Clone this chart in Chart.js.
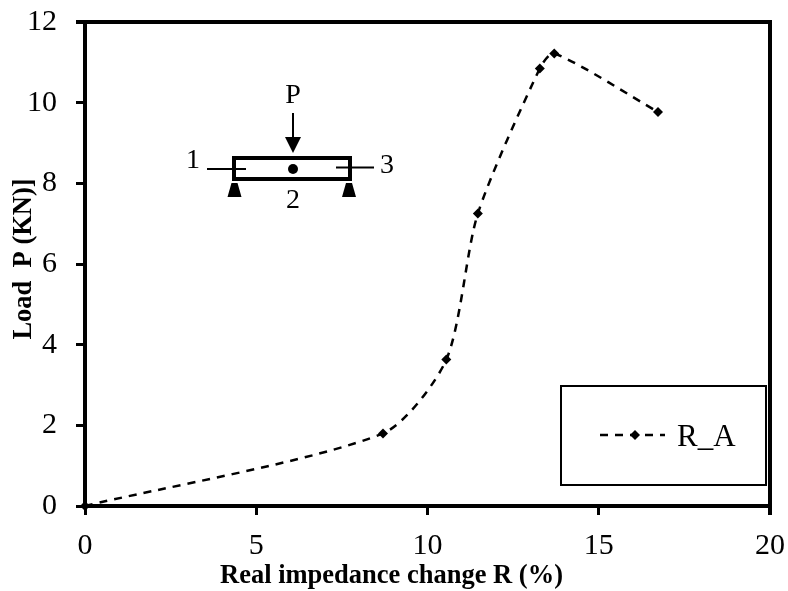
<!DOCTYPE html>
<html>
<head>
<meta charset="utf-8">
<style>
html, body { margin: 0; padding: 0; background: #fff; }
canvas { display: block; }
</style>
<script src="https://cdn.jsdelivr.net/npm/chart.js@4"></script>
</head>
<body>
<canvas id="myChart" width="788" height="591"></canvas>
<script>
const changeR = [0, 8.7, 10.55, 11.47, 13.28, 13.7, 16.73];
const loadP = [0, 1.8, 3.63, 7.25, 10.85, 11.22, 9.77];
const seriesName = "R_A";
const xTitle = "Real impedance change R (%)";
const yTitle = "Load  P (KN)]";

const serif = "'Liberation Serif', 'Times New Roman', serif";

// axis titles (off-centre in the original), the beam sketch and the boxed legend, in canvas pixels
const extras = {
    id: "extras",
    afterDraw(chart) {
        const c = chart.ctx;
        const area = chart.chartArea;
        c.save();
        c.fillStyle = "#000";
        c.strokeStyle = "#000";
        c.lineCap = "butt";

        // top and right edge of the plot
        c.lineWidth = 4;
        c.beginPath();
        c.moveTo(area.left - 9, area.top);
        c.lineTo(area.right, area.top);
        c.lineTo(area.right, area.bottom + 9);
        c.stroke();

        // axis titles
        c.font = "bold 26.5px " + serif;
        c.textAlign = "center";
        c.textBaseline = "alphabetic";
        c.fillText(xTitle, 391.5, 583);
        c.save();
        c.translate(31, 259);
        c.rotate(-Math.PI / 2);
        c.fillText(yTitle, 0, 0);
        c.restore();

        // beam
        c.lineWidth = 4;
        c.strokeRect(234, 158, 116, 21);
        c.lineWidth = 2;
        c.beginPath();
        c.moveTo(207, 169); c.lineTo(246, 169);
        c.moveTo(336, 167.5); c.lineTo(374, 167.5);
        c.moveTo(293, 113); c.lineTo(293, 140);
        c.stroke();
        // arrow head
        c.beginPath();
        c.moveTo(285, 137); c.lineTo(301, 137); c.lineTo(293, 153);
        c.closePath();
        c.fill();
        // centre dot
        c.beginPath();
        c.arc(293, 169, 5, 0, Math.PI * 2);
        c.fill();
        // supports
        [234.5, 349].forEach(function (sx) {
            c.beginPath();
            c.moveTo(sx - 7, 197); c.lineTo(sx + 7, 197); c.lineTo(sx + 3, 183); c.lineTo(sx - 3, 183);
            c.closePath();
            c.fill();
        });
        c.font = "28px " + serif;
        c.fillText("P", 293, 103);
        c.fillText("1", 193, 168);
        c.fillText("3", 387, 173);
        c.fillText("2", 293, 208);

        // legend
        c.lineWidth = 2;
        c.strokeRect(561, 386, 205, 99);
        c.lineWidth = 2.5;
        c.setLineDash([8, 7]);
        c.beginPath();
        c.moveTo(600, 435); c.lineTo(665, 435);
        c.stroke();
        c.setLineDash([]);
        c.beginPath();
        c.moveTo(635, 430); c.lineTo(640, 435); c.lineTo(635, 440); c.lineTo(630, 435);
        c.closePath();
        c.fill();
        c.font = "31px " + serif;
        c.textAlign = "left";
        c.fillText(seriesName, 677, 446);
        c.restore();
    }
};

// fixed axis sizes, and no extra margin for the tick labels that stick out
function fitAxis(scale) {
    if (scale.isHorizontal()) {
        scale.height = 85;
    } else {
        scale.width = 85;
    }
    scale.paddingTop = 0;
    scale.paddingBottom = 0;
    scale.paddingLeft = 0;
    scale.paddingRight = 0;
}

const ctx = document.getElementById("myChart");

new Chart(ctx, {
    type: "scatter",
    plugins: [extras],
    data: {
        datasets: [
            {
                label: seriesName,
                data: changeR.map(function (v, i) { return { x: v, y: loadP[i] }; }),
                showLine: true,
                tension: 0.25,
                borderColor: "#000",
                backgroundColor: "#000",
                borderWidth: 2.5,
                borderDash: [8, 7],
                pointStyle: "rectRot",
                pointRadius: 5,
                pointBorderWidth: 0,
                clip: false,
            },
        ],
    },
    options: {
        responsive: false,
        animation: false,
        layout: { padding: { top: 22, right: 18, bottom: 0, left: 0 } },
        plugins: {
            legend: { display: false },
            tooltip: { enabled: false },
        },
        scales: {
            x: {
                type: "linear",
                min: 0,
                max: 20,
                afterFit: fitAxis,
                border: { color: "#000", width: 4 },
                grid: { drawOnChartArea: false, color: "#000", lineWidth: 3, tickLength: 9 },
                ticks: {
                    stepSize: 5,
                    color: "#000",
                    maxRotation: 0,
                    padding: 13,
                    font: { family: serif, size: 30 },
                },
            },
            y: {
                min: 0,
                max: 12,
                afterFit: fitAxis,
                border: { color: "#000", width: 4 },
                grid: { drawOnChartArea: false, color: "#000", lineWidth: 3, tickLength: 9 },
                ticks: {
                    stepSize: 2,
                    color: "#000",
                    padding: 19,
                    font: { family: serif, size: 30 },
                },
            },
        },
    },
});
</script>
</body>
</html>
